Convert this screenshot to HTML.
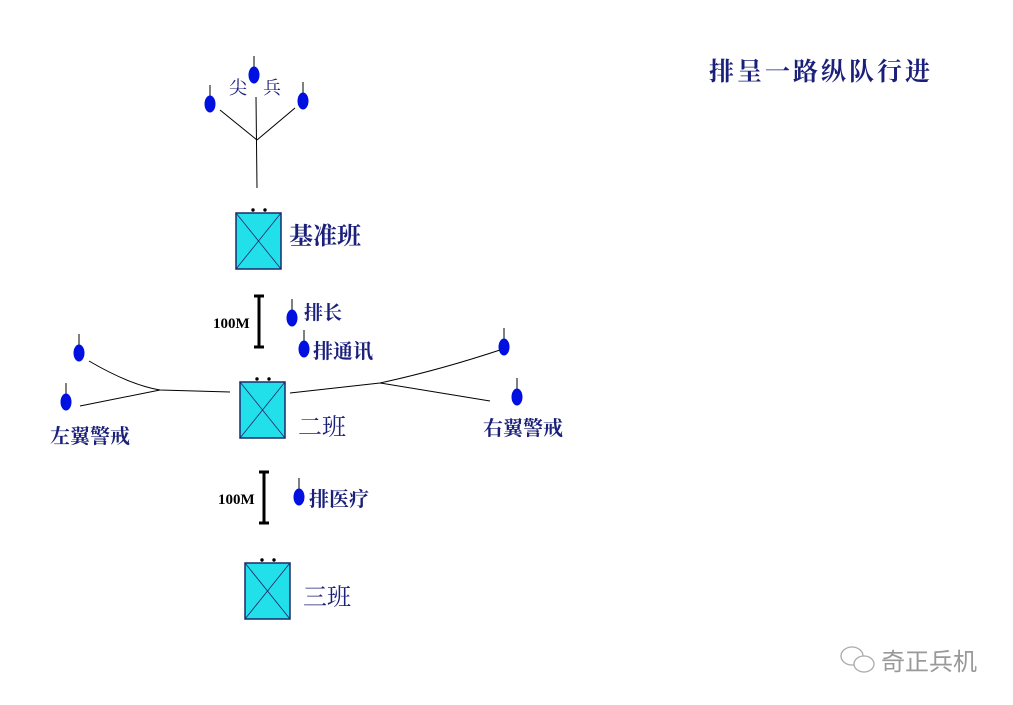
<!DOCTYPE html>
<html><head><meta charset="utf-8"><style>
html,body{margin:0;padding:0;background:#fff;}
svg{display:block;}
text{font-family:"Liberation Serif","Noto Serif CJK SC","Noto Sans CJK SC",serif;}
.lb{fill:#1a1f7a;font-weight:bold;}
</style></head><body>
<svg width="1013" height="705" viewBox="0 0 1013 705" xmlns="http://www.w3.org/2000/svg">
<defs>
<g id="s"><line x1="0" y1="-19" x2="0" y2="-6" stroke="#000" stroke-width="1"/><ellipse cx="0" cy="0" rx="5.5" ry="8.5" fill="#0010e0"/></g>
<g id="box"><rect x="0" y="0" width="45" height="56" fill="#22e0ea" stroke="#1a2a6a" stroke-width="1.5"/><line x1="0" y1="0" x2="45" y2="56" stroke="#226" stroke-width="0.8"/><line x1="45" y1="0" x2="0" y2="56" stroke="#226" stroke-width="0.8"/><circle cx="17" cy="-3" r="1.7" fill="#000"/><circle cx="29" cy="-3" r="1.7" fill="#000"/></g>
<g id="bar"><line x1="0" y1="0" x2="0" y2="51" stroke="#000" stroke-width="3"/><line x1="-5" y1="0" x2="5" y2="0" stroke="#000" stroke-width="3"/><line x1="-5" y1="51" x2="5" y2="51" stroke="#000" stroke-width="3"/></g>
</defs>

<use href="#s" x="254" y="75"/>
<use href="#s" x="210" y="104"/>
<use href="#s" x="303" y="101"/>
<g stroke="#000" stroke-width="1" fill="none">
<line x1="220" y1="110" x2="257" y2="140"/>
<line x1="295" y1="108" x2="257" y2="140"/>
<line x1="256" y1="97" x2="257" y2="188"/>
</g>
<text x="229" y="94" font-size="18" class="lb" style="font-weight:normal">尖</text>
<text x="263" y="94" font-size="18" class="lb" style="font-weight:normal">兵</text>

<use href="#box" x="236" y="213"/>
<text x="289" y="244" font-size="24" class="lb">基准班</text>

<use href="#bar" x="259" y="296"/>
<text x="213" y="328" font-size="15" fill="#000" font-weight="bold">100M</text>
<use href="#s" x="292" y="318"/>
<text x="304" y="319" font-size="19" class="lb">排长</text>
<use href="#s" x="304" y="349"/>
<text x="313" y="358" font-size="20" class="lb">排通讯</text>

<use href="#s" x="79" y="353"/>
<use href="#s" x="66" y="402"/>
<g stroke="#000" stroke-width="1" fill="none">
<path d="M89 361 Q130 385 160 390 L230 392"/>
<line x1="80" y1="406" x2="160" y2="390"/>
<path d="M290 393 L380 383 Q440 370 503 349"/>
<line x1="380" y1="383" x2="490" y2="401"/>
</g>
<use href="#s" x="504" y="347"/>
<use href="#s" x="517" y="397"/>
<text x="50" y="443" font-size="20" class="lb">左翼警戒</text>
<text x="483" y="435" font-size="20" class="lb">右翼警戒</text>

<use href="#box" x="240" y="382"/>
<text x="298" y="435" font-size="24" class="lb" style="font-weight:normal">二班</text>

<use href="#bar" x="264" y="472"/>
<text x="218" y="504" font-size="15" fill="#000" font-weight="bold">100M</text>
<use href="#s" x="299" y="497"/>
<text x="309" y="506" font-size="20" class="lb">排医疗</text>

<use href="#box" x="245" y="563"/>
<text x="303" y="605" font-size="24" class="lb" style="font-weight:normal">三班</text>

<text x="709" y="80" font-size="25" class="lb" letter-spacing="3">排呈一路纵队行进</text>

<g stroke="#aaa" stroke-width="1.3" fill="none">
<ellipse cx="852" cy="656" rx="11" ry="9"/>
<ellipse cx="864" cy="664" rx="10" ry="8" fill="#fff"/>
</g>
<text x="881" y="670" font-size="24" fill="#999" style="font-family:'Liberation Sans','Noto Sans CJK SC',sans-serif">奇正兵机</text>
</svg>
</body></html>
